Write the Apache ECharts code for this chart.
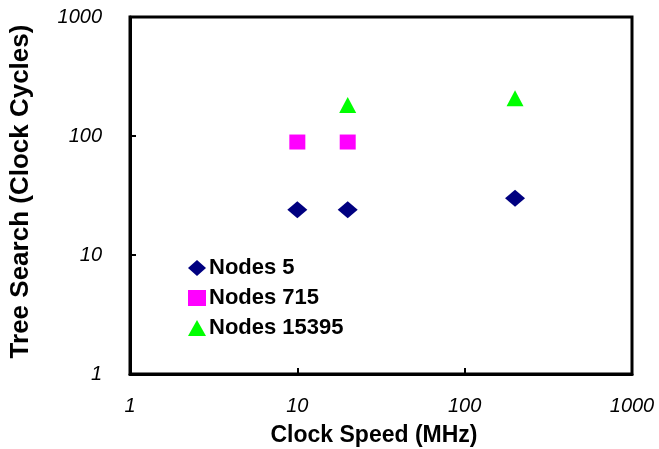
<!DOCTYPE html>
<html>
<head>
<meta charset="utf-8">
<script src="https://cdn.jsdelivr.net/npm/echarts@6/dist/echarts.min.js"></script>
<style>html,body{margin:0;padding:0;background:#fff;}#c{width:659px;height:449px;}</style>
</head>
<body>
<div id="c"></div>
<script>
const seriesNames = ['Nodes 5', 'Nodes 715', 'Nodes 15395'];
const nodes5 = [[10, 24], [20, 24], [200, 30]];
const nodes715 = [[10, 89], [20, 89]];
const nodes15395 = [[20, 182], [200, 208]];
const xTicks = [1, 10, 100, 1000];
const yTicks = [1, 10, 100, 1000];

const chart = echarts.init(document.getElementById('c'), null, {renderer: 'canvas'});
const tickFont = {fontFamily: 'Liberation Sans, Arial, sans-serif', fontStyle: 'italic', fontSize: 20, color: '#000'};
const titleFont = {fontFamily: 'Liberation Sans, Arial, sans-serif', fontWeight: 'bold', color: '#000'};
chart.setOption({
  animation: false,
  backgroundColor: '#fff',
  grid: {left: 130, top: 17, right: 27, bottom: 75, outerBoundsMode: 'none', containLabel: false, show: true, borderColor: '#000', borderWidth: 3, backgroundColor: 'transparent'},
  legend: {
    orient: 'vertical', left: 183, top: 252, itemWidth: 18, itemHeight: 16, itemGap: 8,
    data: [
      {name: seriesNames[0], icon: 'diamond'},
      {name: seriesNames[1], icon: 'rect'},
      {name: seriesNames[2], icon: 'triangle'}
    ],
    textStyle: {fontFamily: 'Liberation Sans, Arial, sans-serif', fontWeight: 'bold', fontSize: 22, color: '#000', padding: [0, 0, 0, -2]}
  },
  xAxis: {
    type: 'log', logBase: 10, min: 1, max: 1000,
    name: 'Clock Speed (MHz)', nameLocation: 'middle', nameGap: 50,
    nameTextStyle: Object.assign({fontSize: 23, padding: [0, 14, 0, 0]}, titleFont),
    axisLine: {show: true, lineStyle: {color: '#000', width: 3}},
    axisTick: {show: true, inside: true, length: 6, lineStyle: {color: '#000', width: 2}},
    minorTick: {show: false},
    splitLine: {show: false},
    axisLabel: Object.assign({margin: 22, formatter: v => xTicks.includes(Math.round(v)) ? String(Math.round(v)) : ''}, tickFont)
  },
  yAxis: {
    type: 'log', logBase: 10, min: 1, max: 1000,
    name: 'Tree Search (Clock Cycles)', nameLocation: 'middle', nameGap: 96, nameRotate: 90,
    nameTextStyle: Object.assign({fontSize: 26, padding: [0, 0, 0, 8]}, titleFont),
    axisLine: {show: true, lineStyle: {color: '#000', width: 3}},
    axisTick: {show: true, inside: true, length: 6, lineStyle: {color: '#000', width: 2}},
    minorTick: {show: false},
    splitLine: {show: false},
    axisLabel: Object.assign({margin: 28, formatter: v => yTicks.includes(Math.round(v)) ? String(Math.round(v)) : ''}, tickFont)
  },
  series: [
    {name: seriesNames[0], type: 'scatter', data: nodes5, symbol: 'diamond', symbolSize: [20, 17], itemStyle: {color: '#000080', opacity: 1}},
    {name: seriesNames[1], type: 'scatter', data: nodes715, symbol: 'rect', symbolSize: [16, 15], itemStyle: {color: '#FF00FF', opacity: 1}},
    {name: seriesNames[2], type: 'scatter', data: nodes15395, symbol: 'triangle', symbolSize: [17, 16], itemStyle: {color: '#00FF00', opacity: 1}}
  ]
});
</script>
</body>
</html>
